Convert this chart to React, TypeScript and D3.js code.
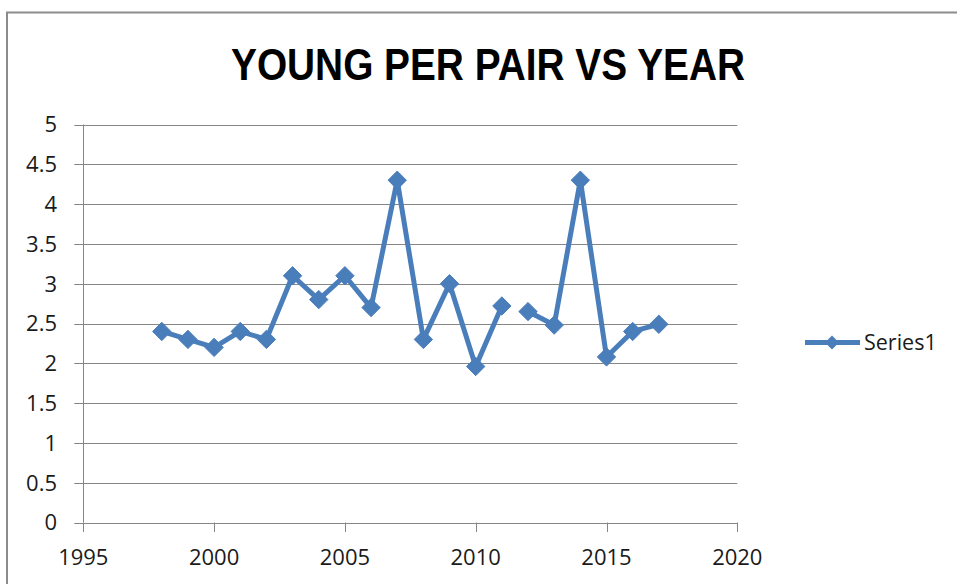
import React, { useEffect, useRef } from 'react';
import * as d3 from 'd3';

// Chart data
const years = [1998, 1999, 2000, 2001, 2002, 2003, 2004, 2005, 2006, 2007, 2008, 2009, 2010, 2011, 2012, 2013, 2014, 2015, 2016, 2017];
const youngPerPair = [2.4, 2.3, 2.2, 2.4, 2.3, 3.1, 2.8, 3.1, 2.7, 4.3, 2.3, 3.0, 1.96, 2.72, 2.65, 2.48, 4.3, 2.08, 2.4, 2.49];
// the line is broken after these years (blank row in the source sheet)
const lineBreaksAfter = [2011];
const xTicks = [1995, 2000, 2005, 2010, 2015, 2020];
const yTicks = [0, 0.5, 1, 1.5, 2, 2.5, 3, 3.5, 4, 4.5, 5];
const seriesName = 'Series1';
const title = 'YOUNG PER PAIR VS YEAR';

const WIDTH = 957;
const HEIGHT = 584;
const BLUE = '#4a7ebb';
const GRID = '#868686';
const TEXT = '#1a1a1a';
const FONT = "'Open Sans', 'Liberation Sans', sans-serif";

const App: React.FC = () => {
  const svgRef = useRef<SVGSVGElement>(null);

  useEffect(() => {
    if (!svgRef.current) return;
    const svg = d3.select(svgRef.current);
    svg.selectAll('*').remove();

    const plot = { left: 83.3, right: 737.3, top: 124.5, bottom: 522.5 };

    const x = d3.scaleLinear().domain([1995, 2020]).range([plot.left, plot.right]);
    const y = d3.scaleLinear().domain([0, 5]).range([plot.bottom, plot.top]);

    // Outer chart border
    svg.append('rect')
      .attr('x', 7)
      .attr('y', 12.5)
      .attr('width', WIDTH + 20)
      .attr('height', HEIGHT + 20)
      .style('fill', 'white')
      .style('stroke', '#8c8c8c')
      .style('stroke-width', 2);

    // Title
    svg.append('text')
      .attr('x', 231)
      .attr('y', 80)
      .attr('textLength', 514)
      .attr('lengthAdjust', 'spacingAndGlyphs')
      .style('font-family', "'Liberation Sans Narrow', 'Liberation Sans', Arial, sans-serif")
      .style('font-weight', 'bold')
      .style('font-size', '45px')
      .style('fill', '#000')
      .text(title);

    // Horizontal gridlines + y ticks
    const gy = svg.append('g');
    gy.selectAll('line.grid')
      .data(yTicks)
      .enter()
      .append('line')
      .attr('x1', plot.left - 9)
      .attr('x2', plot.right)
      .attr('y1', d => Math.round(y(d)) + 0.5)
      .attr('y2', d => Math.round(y(d)) + 0.5)
      .style('stroke', GRID)
      .style('stroke-width', 1);

    gy.selectAll('text')
      .data(yTicks)
      .enter()
      .append('text')
      .attr('x', 57)
      .attr('y', d => y(d))
      .attr('dy', '0.36em')
      .style('text-anchor', 'end')
      .style('font-family', FONT)
      .style('font-size', '22px')
      .style('fill', TEXT)
      .text(d => String(d));

    // Y axis line
    svg.append('line')
      .attr('x1', Math.round(plot.left) + 0.5)
      .attr('x2', Math.round(plot.left) + 0.5)
      .attr('y1', plot.top)
      .attr('y2', plot.bottom)
      .style('stroke', GRID);

    // X ticks and labels
    const gx = svg.append('g');
    gx.selectAll('line')
      .data(xTicks)
      .enter()
      .append('line')
      .attr('x1', d => Math.round(x(d)) + 0.5)
      .attr('x2', d => Math.round(x(d)) + 0.5)
      .attr('y1', plot.bottom)
      .attr('y2', plot.bottom + 9.5)
      .style('stroke', GRID);

    gx.selectAll('text')
      .data(xTicks)
      .enter()
      .append('text')
      .attr('x', d => x(d))
      .attr('y', 565)
      .style('text-anchor', 'middle')
      .style('font-family', FONT)
      .style('font-size', '22px')
      .style('fill', TEXT)
      .text(d => String(d));

    // Series line, split into segments at the breaks
    const points = years.map((yr, i) => ({ yr, v: youngPerPair[i] }));
    const segments: { yr: number; v: number }[][] = [[]];
    points.forEach(p => {
      segments[segments.length - 1].push(p);
      if (lineBreaksAfter.includes(p.yr)) segments.push([]);
    });

    const line = d3.line<{ yr: number; v: number }>()
      .x(d => x(d.yr))
      .y(d => y(d.v));

    svg.append('g')
      .selectAll('path')
      .data(segments)
      .enter()
      .append('path')
      .attr('d', d => line(d))
      .style('fill', 'none')
      .style('stroke', BLUE)
      .style('stroke-width', 5)
      .style('stroke-linejoin', 'round')
      .style('stroke-linecap', 'round');

    const diamond = d3.symbol().type(d3.symbolDiamond2).size(215);
    svg.append('g')
      .selectAll('path')
      .data(points)
      .enter()
      .append('path')
      .attr('transform', d => `translate(${x(d.yr)},${y(d.v)})`)
      .attr('d', diamond() as string)
      .style('fill', BLUE)
      .style('stroke', BLUE)
      .style('stroke-width', 1);

    // Legend
    const lg = svg.append('g').attr('transform', 'translate(805,342.5)');
    lg.append('line')
      .attr('x1', 0)
      .attr('x2', 55)
      .style('stroke', BLUE)
      .style('stroke-width', 5);
    lg.append('path')
      .attr('transform', 'translate(27,0)')
      .attr('d', d3.symbol().type(d3.symbolDiamond2).size(125)() as string)
      .style('fill', BLUE);
    lg.append('text')
      .attr('x', 59)
      .attr('y', 0)
      .attr('dy', '0.36em')
      .style('font-family', FONT)
      .style('font-size', '21.5px')
      .style('fill', TEXT)
      .text(seriesName);
  }, []);

  return (
    <svg
      ref={svgRef}
      width={WIDTH}
      height={HEIGHT}
      style={{ position: 'absolute', left: 0, top: 0, display: 'block', background: 'white' }}
    />
  );
};

export default App;
